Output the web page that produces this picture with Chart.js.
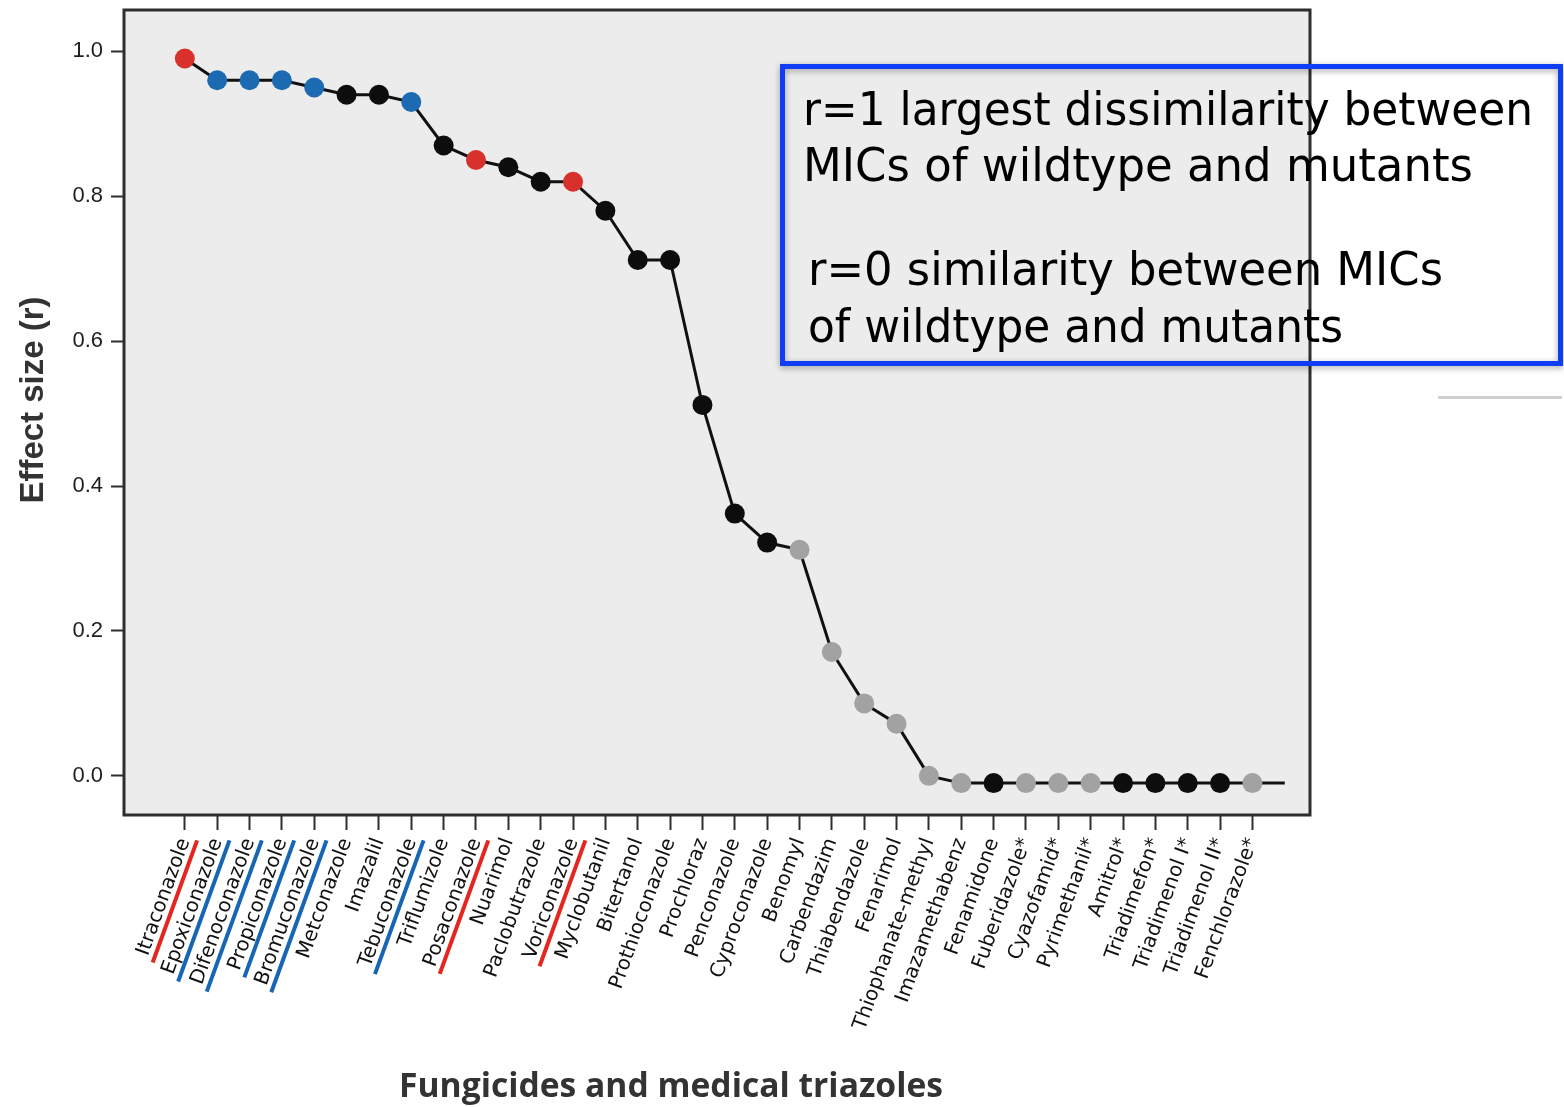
<!DOCTYPE html>
<html><head><meta charset="utf-8">
<script src="https://cdn.jsdelivr.net/npm/chart.js@4.4.1/dist/chart.umd.min.js"></script>
<style>html,body{margin:0;padding:0;background:#fff;}canvas{display:block;}</style>
</head><body>
<canvas id="c" width="1564" height="1107"></canvas>
<script>
const categories = ['Itraconazole','Epoxiconazole','Difenoconazole','Propiconazole','Bromuconazole','Metconazole','Imazalil','Tebuconazole','Triflumizole','Posaconazole','Nuarimol','Paclobutrazole','Voriconazole','Myclobutanil','Bitertanol','Prothioconazole','Prochloraz','Penconazole','Cyproconazole','Benomyl','Carbendazim','Thiabendazole','Fenarimol','Thiophanate-methyl','Imazamethabenz','Fenamidone','Fuberidazole*','Cyazofamid*','Pyrimethanil*','Amitrol*','Triadimefon*','Triadimenol I*','Triadimenol II*','Fenchlorazole*'];
const effectSize = [0.99,0.96,0.96,0.96,0.95,0.94,0.94,0.93,0.87,0.85,0.84,0.82,0.82,0.78,0.712,0.712,0.512,0.362,0.322,0.312,0.171,0.10,0.072,0.0,-0.01,-0.01,-0.01,-0.01,-0.01,-0.01,-0.01,-0.01,-0.01,-0.01];
const pointGroup = ['red','blue','blue','blue','blue','black','black','blue','black','red','black','black','red','black','black','black','black','black','black','gray','gray','gray','gray','gray','gray','black','gray','gray','gray','black','black','black','black','gray'];
const tailValue = -0.01;
const yTickValues = [0, 0.2, 0.4, 0.6, 0.8, 1.0];
const groupColors = {red:'#d8302a', blue:'#1c6ab2', black:'#0d0d0d', gray:'#a2a2a2'};
const underlineColors = {red:'#e3261f', blue:'#1766b5'};
const noteLines = ['r=1 largest dissimilarity between','MICs of wildtype and mutants','r=0 similarity between MICs','of wildtype and mutants'];
const xTitle = 'Fungicides and medical triazoles';
const yTitle = 'Effect size (r)';

const points = categories.map((c, i) => ({x: i, y: effectSize[i]}));
points.push({x: categories.length, y: tailValue});
const ptColors = pointGroup.map(g => groupColors[g]).concat(['rgba(0,0,0,0)']);
const ptRadius = categories.map(() => 10).concat([0]);

const decor = {
  id: 'decor',
  beforeDraw(chart) {
    const {ctx, chartArea: a} = chart;
    ctx.save();
    ctx.fillStyle = '#ffffff';
    ctx.fillRect(0, 0, chart.width, chart.height);
    ctx.fillStyle = '#ececec';
    ctx.fillRect(a.left, a.top, a.right - a.left, a.bottom - a.top);
    ctx.restore();
  },
  beforeDatasetsDraw(chart) {
    const {ctx, chartArea: a} = chart;
    ctx.save();
    ctx.strokeStyle = '#2e2e2e';
    ctx.lineWidth = 3;
    ctx.strokeRect(a.left, a.top, a.right - a.left, a.bottom - a.top);
    ctx.restore();
  },
  afterDraw(chart) {
    const {ctx} = chart;
    const xs = chart.scales.x;
    const items = xs.getLabelItems(chart.chartArea);
    ctx.save();
    items.forEach(it => {
      const idx = categories.indexOf(it.label);
      if (idx < 0) return;
      const col = underlineColors[pointGroup[idx]];
      if (!col) return;
      const o = it.options;
      ctx.save();
      ctx.translate(o.translation[0], o.translation[1]);
      ctx.rotate(o.rotation);
      ctx.font = it.font.string;
      const w = ctx.measureText(it.label).width;
      let yb = it.textOffset;
      if (o.textBaseline === 'middle') yb += it.font.size * 0.5 + 2;
      else if (o.textBaseline === 'top') yb += it.font.size + 2;
      else yb += 3;
      ctx.strokeStyle = col;
      ctx.lineWidth = 4;
      ctx.beginPath();
      ctx.moveTo(-w - 4, yb);
      ctx.lineTo(3, yb);
      ctx.stroke();
      ctx.restore();
    });
    ctx.restore();

    ctx.save();
    ctx.fillStyle = '#333333';
    ctx.font = 'bold 33px "Liberation Sans", Arial, sans-serif';
    ctx.textAlign = 'center';
    ctx.textBaseline = 'middle';
    ctx.translate(34, 400);
    ctx.rotate(-Math.PI / 2);
    ctx.fillText(yTitle, 0, 0, 216);
    ctx.restore();

    ctx.save();
    ctx.fillStyle = '#333333';
    ctx.font = 'bold 34px "Open Sans", sans-serif';
    ctx.textAlign = 'center';
    ctx.textBaseline = 'alphabetic';
    ctx.fillText(xTitle, 671, 1097, 544);
    ctx.restore();

    ctx.save();
    ctx.shadowColor = 'rgba(0,0,0,0.35)';
    ctx.shadowBlur = 6;
    ctx.shadowOffsetY = 2;
    ctx.strokeStyle = '#0f3cf5';
    ctx.lineWidth = 5;
    ctx.strokeRect(782.5, 66.5, 778, 297);
    ctx.restore();
    ctx.save();
    ctx.fillStyle = '#d0d0d0';
    ctx.fillRect(1438, 396, 124, 3);
    ctx.fillStyle = '#000000';
    ctx.font = '46px "DejaVu Sans", sans-serif';
    ctx.textAlign = 'left';
    ctx.textBaseline = 'alphabetic';
    const noteX = [803, 803, 808, 808];
    const noteY = [125, 181, 285, 342];
    const noteW = [730, 670, 635, 535];
    noteLines.forEach((t, i) => ctx.fillText(t, noteX[i], noteY[i], noteW[i]));
    ctx.restore();
  }
};

new Chart(document.getElementById('c'), {
  type: 'line',
  data: {
    datasets: [{
      data: points,
      borderColor: '#111111',
      borderWidth: 3,
      pointBackgroundColor: ptColors,
      pointBorderColor: ptColors,
      pointBorderWidth: 0,
      pointRadius: ptRadius,
      pointHoverRadius: ptRadius,
      tension: 0,
      fill: false
    }]
  },
  options: {
    responsive: false,
    animation: false,
    devicePixelRatio: 1,
    layout: {padding: {left: 0, right: 254, top: 10, bottom: 0}},
    plugins: {legend: {display: false}, tooltip: {enabled: false}},
    scales: {
      x: {
        type: 'linear',
        min: -1.88,
        max: 34.78,
        afterBuildTicks: s => { s.ticks = categories.map((c, i) => ({value: i})); },
        afterFit: s => { s.height = 292; s.paddingLeft = 0; s.paddingRight = 0; },
        grid: {drawOnChartArea: false, drawTicks: true, tickLength: 15, tickColor: '#2e2e2e', tickWidth: 2},
        border: {display: false},
        ticks: {
          autoSkip: false,
          maxRotation: 70,
          minRotation: 70,
          padding: 5,
          color: '#111111',
          font: {family: '"DejaVu Sans", sans-serif', size: 20},
          callback: v => categories[v]
        }
      },
      y: {
        type: 'linear',
        min: -0.054,
        max: 1.057,
        afterBuildTicks: s => { s.ticks = yTickValues.map(v => ({value: v})); },
        afterFit: s => { s.width = 124; s.paddingTop = 0; s.paddingBottom = 0; },
        grid: {drawOnChartArea: false, drawTicks: true, tickLength: 13, tickColor: '#2e2e2e', tickWidth: 2},
        border: {display: false},
        ticks: {
          padding: 8,
          color: '#1e1e1e',
          font: {family: '"Liberation Sans", Arial, sans-serif', size: 22},
          callback: v => Number(v).toFixed(1)
        }
      }
    }
  },
  plugins: [decor]
});
</script>
</body></html>
